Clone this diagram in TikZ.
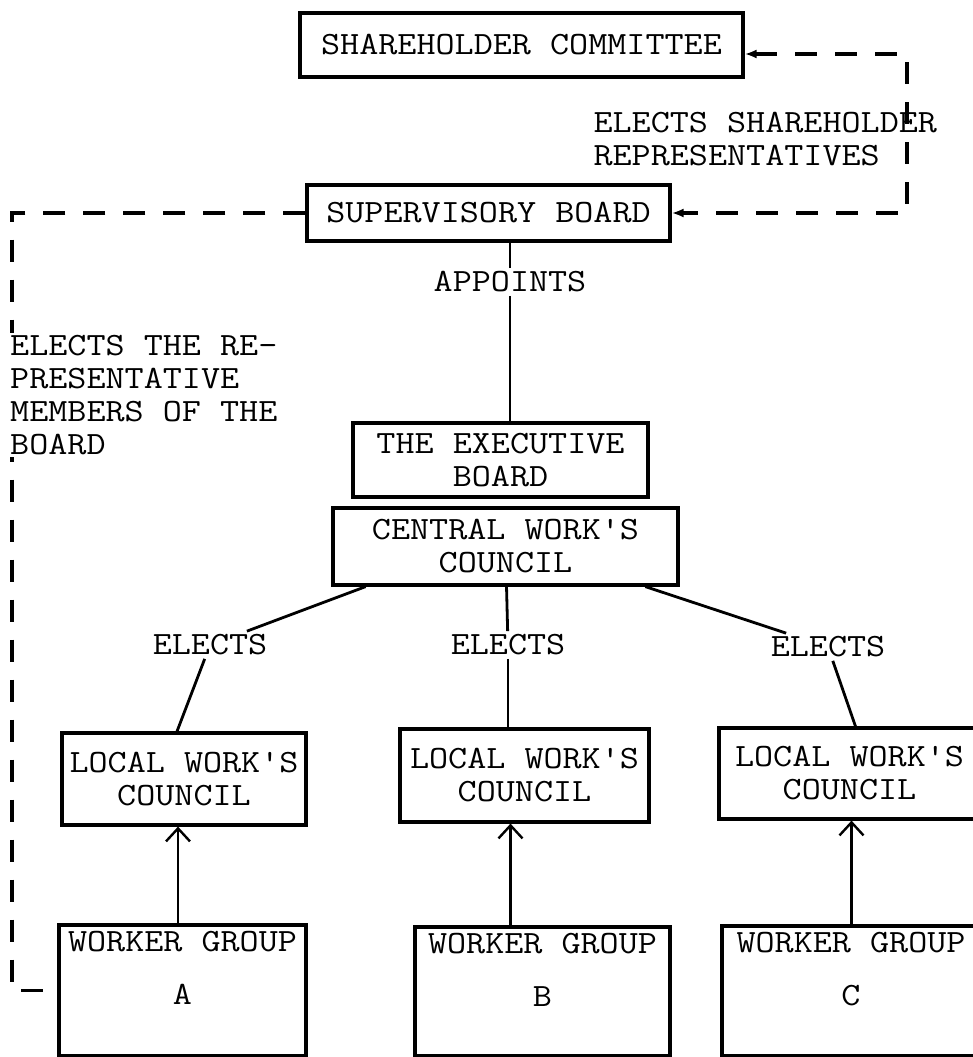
\documentclass[tikz,border=0pt]{standalone}
\usepackage{fontspec}
\setmonofont[FakeStretch=1.14]{Latin Modern Mono}
\usetikzlibrary{arrows.meta,positioning}

\begin{document}
\begin{tikzpicture}[x=1pt,y=-1pt,
    font=\ttfamily\fontsize{32.5}{33}\selectfont,
    box/.style={draw,line width=3.2pt,inner sep=2pt,align=center},
    dashline/.style={line width=3.2pt,dash pattern=on 22pt off 18pt},
    link/.style={line width=2.8pt},
    up/.style={line width=2.4pt,-{Straight Barb[length=13pt,width=24pt,line width=2.4pt]}},
    dtip/.tip={Latex[length=12pt,width=9pt]}]
    \useasboundingbox (0,0) rectangle (973,1057);
    % shareholders and supervisory board
    \node[box,minimum width=443,minimum height=64] (sc) at (521.5,45) {SHAREHOLDER COMMITTEE};
    \node[box,minimum width=363,minimum height=56] (sb) at (488.5,213) {SUPERVISORY BOARD};
    \coordinate (rt) at (907,130);
    \draw[dashline,dtip-dtip] ([yshift=-9pt]sc.east) -| (rt) |- (sb.east);
    \node[anchor=west,align=left] (elsh) at (590,139) {ELECTS SHAREHOLDER\\REPRESENTATIVES};
    % executive board and central council
    \node[box,minimum width=295,minimum height=74] (eb) at (500.5,460) {THE EXECUTIVE\\BOARD};
    \node[box,minimum width=345,minimum height=77] (cwc) at (505.5,546.5) {CENTRAL WORK'S\\COUNCIL};
    \node (ap) at (510,282) {APPOINTS};
    \draw[link] (ap.north) -- (ap.north |- sb.south);
    \draw[link] (ap.south) -- (ap.south |- eb.north);
    % local councils
    \node[box,minimum width=244,minimum height=92] (lwcA) at (184,779) {LOCAL WORK'S\\COUNCIL};
    \node[box,minimum width=249,minimum height=93] (lwcB) at (524.5,775.5) {LOCAL WORK'S\\COUNCIL};
    \node[box,minimum width=261,minimum height=91] (lwcC) at (849.5,773.5) {LOCAL WORK'S\\COUNCIL};
    \node (elA) at (210,645) {ELECTS};
    \node (elB) at (508,645) {ELECTS};
    \node (elC) at (828,647) {ELECTS};
    \draw[link] (cwc.196) -- (elA);
    \draw[link] (cwc) -- (elB);
    \draw[link] (cwc.-16) -- (elC);
    \draw[link] (elA) -- ([xshift=-7pt]lwcA.north);
    \draw[link] (elB) -- (lwcB.north -| elB);
    \draw[link] (elC) -- ([xshift=6pt]lwcC.north);
    % worker groups
    \node[box,minimum width=247,minimum height=131] (wgA) at (182.5,990.5) {};
    \node[box,minimum width=255,minimum height=129] (wgB) at (542.5,991.5) {};
    \node[box,minimum width=258,minimum height=130] (wgC) at (851,991) {};
    \node[anchor=north,align=center,yshift=-4pt] (wgAt) at (wgA.north) {WORKER GROUP\\[20pt]A};
    \node[anchor=north,align=center,yshift=-4pt] (wgBt) at (wgB.north) {WORKER GROUP\\[20pt]B};
    \node[anchor=north,align=center,yshift=-4pt] (wgCt) at (wgC.north) {WORKER GROUP\\[20pt]C};
    \path (lwcA.south) ++(-6,0) coordinate (bA);
    \path (lwcB.south) ++(-14,0) coordinate (bB);
    \path (lwcC.south) ++(2,0) coordinate (bC);
    \draw[up] (wgA.north -| bA) -- (bA);
    \draw[up] (wgB.north -| bB) -- (bB);
    \draw[up] (wgC.north -| bC) -- (bC);
    % worker side of the supervisory board
    \coordinate (lf) at (12,600);
    \draw[dashline] (sb.west) -| (lf) |- (wgA.west);
    \node[anchor=west,align=left,fill=white,inner sep=2pt] (elrep) at (8,395)
      {ELECTS THE RE-\\PRESENTATIVE\\MEMBERS OF THE\\BOARD};
\end{tikzpicture}
\end{document}
